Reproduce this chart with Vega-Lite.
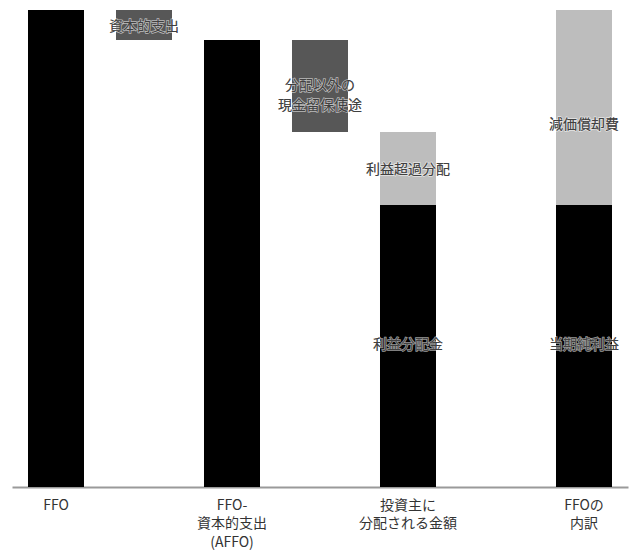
{
  "$schema": "https://vega.github.io/schema/vega-lite/v6.json",
  "autosize": "none",
  "width": 616,
  "height": 477,
  "padding": {"left": 12, "top": 10, "right": 4, "bottom": 66},
  "background": "white",
  "config": {"view": {"stroke": null}, "font": "Noto Sans CJK JP"},
  "data": {
    "values": [
      {"slot": "s1", "y0": 0, "y1": 100, "part": "基本", "label": "", "ly": 0},
      {"slot": "s2", "y0": 93.7, "y1": 100, "part": "控除", "label": "資本的支出", "ly": 96.4},
      {"slot": "s3", "y0": 0, "y1": 93.7, "part": "基本", "label": "", "ly": 0},
      {"slot": "s4", "y0": 74.4, "y1": 93.7, "part": "控除", "label": "分配以外の\n現金留保使途", "ly": 84},
      {"slot": "s5", "y0": 0, "y1": 59.1, "part": "基本", "label": "利益分配金", "ly": 29.8},
      {"slot": "s5", "y0": 59.1, "y1": 74.4, "part": "追加", "label": "利益超過分配", "ly": 66.5},
      {"slot": "s6", "y0": 0, "y1": 0, "part": "空", "label": "", "ly": 0},
      {"slot": "s7", "y0": 0, "y1": 59.1, "part": "基本", "label": "当期純利益", "ly": 29.8},
      {"slot": "s7", "y0": 59.1, "y1": 100, "part": "追加", "label": "減価償却費", "ly": 75.9}
    ]
  },
  "encoding": {
    "x": {
      "field": "slot",
      "type": "nominal",
      "sort": ["s1", "s2", "s3", "s4", "s5", "s6", "s7"],
      "scale": {"paddingInner": 0.3636, "paddingOuter": 0.1818},
      "axis": {
        "title": null,
        "ticks": false,
        "domainColor": "#9a9a9a",
        "domainWidth": 2,
        "labelAngle": 0,
        "labelFontSize": 14,
        "labelColor": "#333333",
        "labelFont": "Noto Sans CJK JP",
        "labelPadding": 11,
        "labelLineHeight": 18.5,
        "labelExpr": "datum.value == 's1' ? 'FFO' : datum.value == 's3' ? ['FFO-', '資本的支出', '(AFFO)'] : datum.value == 's5' ? ['投資主に', '分配される金額'] : datum.value == 's7' ? ['FFOの', '内訳'] : ''"
      }
    }
  },
  "layer": [
    {
      "mark": {"type": "bar"},
      "encoding": {
        "y": {"field": "y0", "type": "quantitative", "scale": {"domain": [0, 100], "nice": false}, "axis": null},
        "y2": {"field": "y1"},
        "color": {
          "field": "part",
          "type": "nominal",
          "scale": {"domain": ["基本", "控除", "追加", "空"], "range": ["#000000", "#575757", "#bdbdbd", "#ffffff"]},
          "legend": null
        }
      }
    },
    {
      "mark": {"type": "text", "fontSize": 14, "lineBreak": "\n", "lineHeight": 20, "fill": "#404040", "stroke": "#ffffff", "strokeWidth": 1.5, "strokeOpacity": 0.6, "font": "Noto Sans CJK JP"},
      "encoding": {
        "y": {"field": "ly", "type": "quantitative"},
        "text": {"field": "label", "type": "nominal"}
      }
    },
    {
      "mark": {"type": "text", "fontSize": 14, "lineBreak": "\n", "lineHeight": 20, "fill": "#404040", "font": "Noto Sans CJK JP"},
      "encoding": {
        "y": {"field": "ly", "type": "quantitative"},
        "text": {"field": "label", "type": "nominal"}
      }
    }
  ]
}
